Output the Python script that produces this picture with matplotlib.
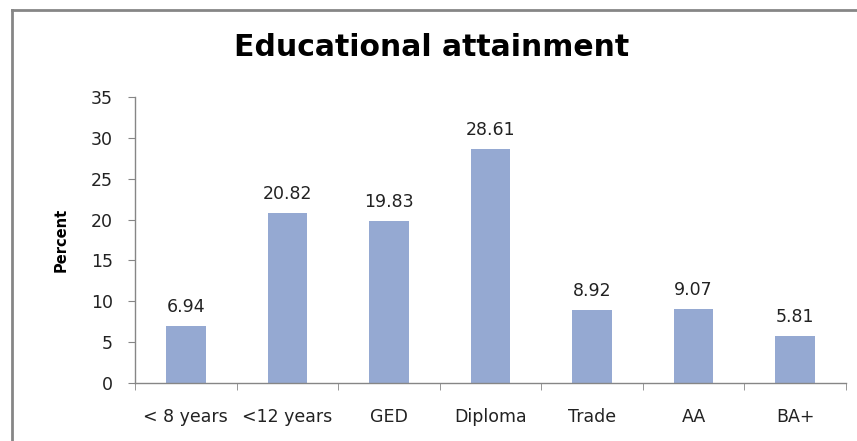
import numpy as np
import matplotlib
matplotlib.use("Agg")
import matplotlib.pyplot as plt
from matplotlib.lines import Line2D

categories = ["< 8 years", "<12 years", "GED", "Diploma", "Trade", "AA", "BA+"]
percent = [6.94, 20.82, 19.83, 28.61, 8.92, 9.07, 5.81]
yticks = [0, 5, 10, 15, 20, 25, 30, 35]

bar_color = "#95A9D2"
axis_color = "#868686"

fig = plt.figure(figsize=(8.57, 4.41), dpi=100)
ax = fig.add_axes([135/857, 1 - 383/441, (846 - 135)/857, (383 - 97)/441])

x = np.arange(len(categories))
ax.bar(x, percent, width=0.39, color=bar_color, zorder=2)

for xi, v in zip(x, percent):
    ax.text(xi, v + 1.2, "%.2f" % v, ha="center", va="bottom",
            fontsize=12.5, color="#222222")

ax.set_xlim(-0.5, len(categories) - 0.5)
ax.set_ylim(0, 35)
ax.set_yticks(yticks)
ax.set_yticklabels([str(t) for t in yticks], fontsize=12.5, color="#222222")

# category labels centred, tick marks between categories
ax.set_xticks(x)
ax.set_xticklabels(categories, fontsize=12.5, color="#222222")
ax.tick_params(axis="x", length=0, pad=18)
ax.set_xticks(np.arange(-0.5, len(categories)), minor=True)
ax.tick_params(axis="x", which="minor", length=5, color=axis_color, direction="out")
ax.tick_params(axis="y", length=5, color=axis_color, direction="out", pad=11)

for side in ["top", "right"]:
    ax.spines[side].set_visible(False)
for side in ["left", "bottom"]:
    ax.spines[side].set_color(axis_color)
    ax.spines[side].set_linewidth(1)

ax.set_ylabel("Percent", fontsize=10.5, fontweight="bold", labelpad=16)

fig.text(0.503, 1 - 48/441, "Educational attainment", ha="center", va="center",
         fontsize=21.5, fontweight="bold")

# chart frame (top and left edges only)
fig.add_artist(Line2D([12/857, 12/857], [0, 1 - 10/441], transform=fig.transFigure,
                      color=axis_color, linewidth=2))
fig.add_artist(Line2D([12/857, 1], [1 - 10/441, 1 - 10/441], transform=fig.transFigure,
                      color=axis_color, linewidth=2))

fig.savefig("out.png", dpi=100)
